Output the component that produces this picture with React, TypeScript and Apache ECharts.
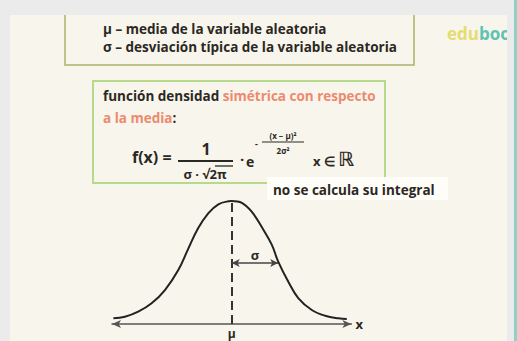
import React, { useEffect, useRef } from 'react';
import * as echarts from 'echarts';

// Curve (x in σ units from μ, y relative to the peak height)
const curveX = [-2.57, -2.32, -2.03, -1.74, -1.45, -1.16, -0.94, -0.73, -0.51, -0.29, -0.07, 0, 0.22, 0.43, 0.65, 0.87, 1.01, 1.23, 1.45, 1.74, 2.03, 2.32, 2.5];
const curveY = [0.046, 0.059, 0.1, 0.168, 0.276, 0.439, 0.615, 0.778, 0.9, 0.973, 0.998, 1.0, 0.985, 0.915, 0.79, 0.645, 0.507, 0.344, 0.209, 0.114, 0.067, 0.046, 0.041];
const meanX = 0;
const peakY = 1;
const sigmaEndX = 1.01;
const sigmaArrowY = 0.496;
const axisMin = -2.6;
const axisMax = 2.6;

const meanLabel = 'μ';
const axisName = 'x';
const sigmaLabel = 'σ';
const legendLines = ['μ – media de la variable aleatoria', 'σ – desviación típica de la variable aleatoria'];
const titleDark = 'función densidad ';
const titleColored = 'simétrica con respecto';
const line2Colored = 'a la media';
const noteText = 'no se calcula su integral';

const INK = '#2b2824';
const CORAL = '#ec8a6f';
const FONT = '"Open Sans", Lato, sans-serif';

export default function App() {
  const ref = useRef<HTMLDivElement>(null);
  useEffect(() => {
    if (!ref.current) return;
    const chart = echarts.init(ref.current, null, { renderer: 'svg' });
    const curve = curveX.map((x, i) => [x, curveY[i]]);
    const t = (text: string, x: number, y: number, size: number, opts: any = {}) => ({
      type: 'text',
      x,
      y,
      z: 20,
      style: {
        text,
        fill: opts.fill || INK,
        font: `${opts.weight || 'bold'} ${size}px ${opts.family || FONT}`,
        textAlign: opts.align || 'left',
        textVerticalAlign: 'middle',
      },
    });
    const ln = (x1: number, y1: number, x2: number, y2: number, w: number, color = INK) => ({
      type: 'line',
      z: 20,
      shape: { x1, y1, x2, y2 },
      style: { stroke: color, lineWidth: w },
    });
    const rich = (size: number) => ({
      a: { fill: INK, fontSize: size, fontWeight: 'bold', fontFamily: FONT },
      b: { fill: CORAL, fontSize: size, fontWeight: 'bold', fontFamily: FONT },
    });
    chart.setOption({
      animation: false,
      backgroundColor: '#ebebeb',
      grid: { left: 112, right: 165.6, top: 201, bottom: 17 },
      xAxis: {
        type: 'value',
        min: axisMin,
        max: axisMax,
        interval: 2.6,
        name: axisName,
        nameLocation: 'end',
        nameGap: 4,
        nameTextStyle: { color: INK, fontSize: 13, fontWeight: 'bold', fontFamily: FONT, verticalAlign: 'middle' },
        axisLine: {
          show: true,
          symbol: ['arrow', 'arrow'],
          symbolSize: [6, 9],
          lineStyle: { color: '#555', width: 1.5 },
        },
        axisTick: { show: false },
        splitLine: { show: false },
        axisLabel: {
          margin: 3,
          color: INK,
          fontSize: 12,
          fontWeight: 'bold',
          fontFamily: FONT,
          formatter: (v: number) => (Math.abs(v - meanX) < 1e-9 ? meanLabel : ''),
        },
      },
      yAxis: { type: 'value', min: 0, max: 1, show: false, splitLine: { show: false } },
      graphic: [
        { type: 'rect', z: -10, shape: { x: 10, y: 15, width: 497, height: 326 }, style: { fill: '#f8f5ec' } },
        { type: 'rect', z: 30, shape: { x: 514, y: 0, width: 3, height: 341 }, style: { fill: '#8fd0c7' } },
        {
          type: 'polyline', z: 5,
          shape: { points: [[65, 15], [65, 65], [414, 65], [414, 15]] },
          style: { stroke: '#aab36c', lineWidth: 1.5, fill: 'none' },
        },
        t(legendLines[0], 103, 29, 13.5),
        t(legendLines[1], 103, 47, 13.5),
        {
          type: 'text', x: 447, y: 33, z: 20,
          style: {
            text: '{a|edu}{b|boo}',
            textVerticalAlign: 'middle',
            rich: {
              a: { fill: '#e5dc72', fontSize: 17, fontWeight: 'bold', fontFamily: FONT },
              b: { fill: '#5fc3b2', fontSize: 17, fontWeight: 'bold', fontFamily: FONT },
            },
          },
        },
        { type: 'rect', z: 25, shape: { x: 507, y: 0, width: 7, height: 341 }, style: { fill: '#ebebeb' } },
        {
          type: 'polyline', z: 5,
          shape: { points: [[268, 183], [93, 183], [93, 81], [385, 81], [385, 177]] },
          style: { stroke: '#b7d98b', lineWidth: 2, fill: 'none' },
        },
        {
          type: 'text', x: 103, y: 96, z: 20,
          style: { text: `{a|${titleDark}}{b|${titleColored}}`, textVerticalAlign: 'middle', rich: rich(13.5) },
        },
        {
          type: 'text', x: 103, y: 118, z: 20,
          style: { text: `{b|${line2Colored}}{a|:}`, textVerticalAlign: 'middle', rich: rich(13.5) },
        },
        t('f(x) =', 132, 157, 16),
        t('1', 206, 149, 16, { align: 'center' }),
        ln(178, 161, 233, 161, 2),
        t('σ · √2π', 205, 174, 13, { align: 'center' }),
        ln(215, 166, 233, 166, 1.3),
        t('·', 240, 159, 15),
        t('e', 246, 161, 14),
        t('-', 255, 143, 9),
        t('(x − μ)²', 283, 135, 8, { align: 'center' }),
        ln(262, 142, 304, 142, 1.2),
        t('2σ²', 283, 150, 8, { align: 'center' }),
        t('x ∈', 313, 161, 13),
        t('ℝ', 338, 159, 20, { family: '"DejaVu Sans", sans-serif' }),
        { type: 'rect', z: 10, shape: { x: 267, y: 177, width: 181, height: 23 }, style: { fill: '#fffdf8' } },
        t(noteText, 273, 190, 13.5),
      ],
      series: [
        {
          type: 'line',
          data: curve,
          smooth: 0.4,
          symbol: 'none',
          clip: false,
          z: 5,
          lineStyle: { color: '#222', width: 2 },
        },
        {
          type: 'line',
          data: [],
          symbol: 'none',
          markLine: {
            silent: true,
            symbol: ['none', 'none'],
            label: { show: false },
            lineStyle: { color: '#333', width: 2, type: [9, 5] },
            data: [[{ coord: [meanX, 0] }, { coord: [meanX, peakY] }]],
          },
        },
        {
          type: 'line',
          data: [],
          symbol: 'none',
          markLine: {
            silent: true,
            symbol: ['arrow', 'arrow'],
            symbolSize: [6, 8],
            label: {
              show: true,
              position: 'middle',
              formatter: sigmaLabel,
              color: INK,
              fontSize: 13,
              fontWeight: 'bold',
              fontFamily: FONT,
              distance: 1,
            },
            lineStyle: { color: '#444', width: 1.5, type: 'solid' },
            data: [[{ coord: [meanX, sigmaArrowY] }, { coord: [sigmaEndX, sigmaArrowY] }]],
          },
        },
      ],
    });
    return () => chart.dispose();
  }, []);
  return <div ref={ref} style={{ position: 'absolute', left: 0, top: 0, width: 517, height: 341 }} />;
}
